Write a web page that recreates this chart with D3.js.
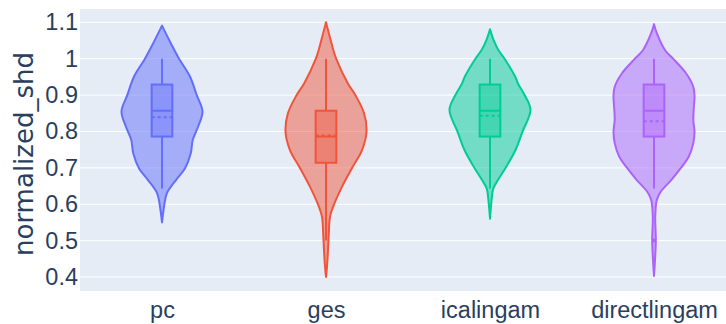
<!DOCTYPE html>
<html>
<head>
<meta charset="utf-8">
<script src="https://cdn.jsdelivr.net/npm/d3@7"></script>
<style>
  html, body { margin: 0; padding: 0; background: #fff; }
  svg { display: block; font-family: "DejaVu Sans", Verdana, sans-serif; }
</style>
</head>
<body>
<svg id="chart" width="726" height="324"></svg>
<script>
// Algorithms compared
const categories = ["pc", "ges", "icalingam", "directlingam"];
const seriesColors = ["#636efa", "#EF553B", "#00cc96", "#ab63fa"];

// Box statistics per algorithm (normalized SHD)
const whiskerLow  = [0.643, 0.500, 0.643, 0.643];
const quartile1   = [0.786, 0.714, 0.786, 0.786];
const medians     = [0.857, 0.786, 0.857, 0.857];
const quartile3   = [0.929, 0.857, 0.929, 0.929];
const whiskerHigh = [1.000, 1.000, 1.000, 1.000];
const means       = [0.839, 0.789, 0.843, 0.828];
const outliers    = [[], [], [], [0.500]];

// Kernel density profiles: [value, density relative to the peak]
const densityPc = [
  [1.091, 0.00], [1.075, 0.07], [1.042, 0.22], [1.000, 0.42], [0.951, 0.69],
  [0.899, 0.86], [0.855, 1.00], [0.813, 0.89], [0.777, 0.76], [0.740, 0.71],
  [0.699, 0.57], [0.667, 0.35], [0.630, 0.12], [0.593, 0.05], [0.550, 0.00]
];
const densityGes = [
  [1.100, 0.00], [1.070, 0.07], [1.024, 0.18], [1.000, 0.25], [0.932, 0.54],
  [0.899, 0.73], [0.850, 0.94], [0.800, 1.00], [0.749, 0.89], [0.699, 0.64],
  [0.649, 0.40], [0.600, 0.20], [0.566, 0.10], [0.520, 0.07], [0.475, 0.05],
  [0.429, 0.025], [0.400, 0.00]
];
const densityIcalingam = [
  [1.081, 0.00], [1.051, 0.09], [1.025, 0.20], [1.000, 0.36], [0.951, 0.62],
  [0.932, 0.69], [0.899, 0.86], [0.859, 1.00], [0.799, 0.80], [0.749, 0.63],
  [0.699, 0.38], [0.667, 0.20], [0.643, 0.08], [0.612, 0.04], [0.560, 0.00]
];
const densityDirectlingam = [
  [1.095, 0.00], [1.070, 0.07], [1.024, 0.27], [1.000, 0.47], [0.960, 0.79],
  [0.923, 0.97], [0.899, 1.00], [0.859, 0.98], [0.832, 0.97], [0.799, 1.00],
  [0.768, 0.97], [0.731, 0.86], [0.699, 0.66], [0.667, 0.43], [0.635, 0.17],
  [0.612, 0.07], [0.566, 0.03], [0.502, 0.045], [0.447, 0.025], [0.403, 0.00]
];
const densities = [densityPc, densityGes, densityIcalingam, densityDirectlingam];

// Axis
const yTickValues = [0.4, 0.5, 0.6, 0.7, 0.8, 0.9, 1.0, 1.1];
const yTickLabels = ["0.4", "0.5", "0.6", "0.7", "0.8", "0.9", "1", "1.1"];
const yAxisTitle = "normalized_shd";

// ---- layout ----
const svg = d3.select("#chart");
const plot = { left: 80, right: 736, top: 9, bottom: 291 };

const x = d3.scalePoint()
  .domain(categories)
  .range([plot.left, plot.right])
  .padding(0.5);

const y = d3.scaleLinear()
  .domain([0.3615, 1.1366])
  .range([plot.bottom, plot.top]);

const violinHalf = x.step() * 0.247;
const boxHalf = violinHalf * 0.255;
const w = d3.scaleLinear().domain([0, 1]).range([0, violinHalf]);

// plot background
svg.append("rect")
  .attr("x", plot.left).attr("y", plot.top)
  .attr("width", plot.right - plot.left).attr("height", plot.bottom - plot.top)
  .attr("fill", "#e5ecf6");

// horizontal grid
svg.append("g").selectAll("line")
  .data(yTickValues)
  .join("line")
  .attr("x1", plot.left).attr("x2", plot.right)
  .attr("y1", d => y(d)).attr("y2", d => y(d))
  .attr("stroke", "#fff").attr("stroke-width", 1);

// y axis labels
const yAxis = d3.axisLeft(y)
  .tickValues(yTickValues)
  .tickFormat((d, i) => yTickLabels[i])
  .tickSize(0)
  .tickPadding(2);
const gy = svg.append("g").attr("transform", `translate(${plot.left},0)`).call(yAxis);
gy.select(".domain").remove();
gy.selectAll("text")
  .attr("fill", "#2a3f5f")
  .style("font-size", "23.5px");

// x axis labels
const xAxis = d3.axisBottom(x).tickSize(0).tickPadding(10);
const gx = svg.append("g").attr("transform", `translate(0,${plot.bottom})`).call(xAxis);
gx.select(".domain").remove();
gx.selectAll("text")
  .attr("fill", "#2a3f5f")
  .style("font-size", "23.5px");

// y axis title
svg.append("text")
  .attr("transform", `translate(33,${(plot.top + plot.bottom) / 2 + 4}) rotate(-90)`)
  .attr("text-anchor", "middle")
  .attr("fill", "#2a3f5f")
  .style("font-size", "26px")
  .text(yAxisTitle);

// violins
const violinArea = d3.area()
  .curve(d3.curveCatmullRom.alpha(0.5));

categories.forEach((cat, i) => {
  const cx = x(cat);
  const col = seriesColors[i];
  const g = svg.append("g");

  violinArea
    .y(d => y(d[0]))
    .x0(d => cx - w(d[1]))
    .x1(d => cx + w(d[1]));

  g.append("path")
    .datum(densities[i])
    .attr("d", violinArea)
    .attr("fill", col).attr("fill-opacity", 0.5)
    .attr("stroke", col).attr("stroke-width", 2)
    .attr("stroke-linejoin", "round");

  // whiskers
  g.append("line")
    .attr("x1", cx).attr("x2", cx)
    .attr("y1", y(whiskerHigh[i])).attr("y2", y(quartile3[i]))
    .attr("stroke", col).attr("stroke-width", 2);
  g.append("line")
    .attr("x1", cx).attr("x2", cx)
    .attr("y1", y(quartile1[i])).attr("y2", y(whiskerLow[i]))
    .attr("stroke", col).attr("stroke-width", 2);

  // box
  g.append("rect")
    .attr("x", cx - boxHalf).attr("width", boxHalf * 2)
    .attr("y", y(quartile3[i])).attr("height", y(quartile1[i]) - y(quartile3[i]))
    .attr("fill", col).attr("fill-opacity", 0.4)
    .attr("stroke", col).attr("stroke-width", 2);

  // median
  g.append("line")
    .attr("x1", cx - boxHalf).attr("x2", cx + boxHalf)
    .attr("y1", y(medians[i])).attr("y2", y(medians[i]))
    .attr("stroke", col).attr("stroke-width", 2);

  // mean (dashed)
  g.append("line")
    .attr("x1", cx - boxHalf).attr("x2", cx + boxHalf)
    .attr("y1", y(means[i])).attr("y2", y(means[i]))
    .attr("stroke", col).attr("stroke-width", 2)
    .attr("stroke-dasharray", "3,3");

  // outliers
  g.selectAll("circle.outlier")
    .data(outliers[i])
    .join("circle")
    .attr("class", "outlier")
    .attr("cx", cx).attr("cy", d => y(d))
    .attr("r", 2)
    .attr("fill", col);
});
</script>
</body>
</html>
